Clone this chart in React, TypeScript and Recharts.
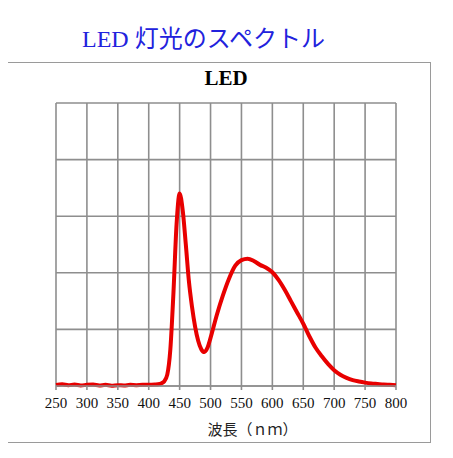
import { LineChart, Line, XAxis, YAxis, CartesianGrid } from "recharts"

// wavelength (nm) and relative intensity of the LED spectrum
const wavelengths = [
  250, 260, 270, 280, 290, 300, 310, 320, 330, 340, 350, 360, 370, 380, 390, 400,
  410, 415, 420, 425, 430, 435, 440, 445, 450, 455, 460, 465, 470, 475, 480, 485,
  490, 495, 500, 510, 520, 530, 540, 550, 560, 570, 580, 590, 600, 610, 620, 630,
  640, 650, 660, 670, 680, 690, 700, 710, 720, 730, 740, 750, 760, 770, 780, 790, 800,
]
const intensity = [
  0.4, 0.6, 0.3, 0.5, 0.2, 0.4, 0.5, 0.2, 0.4, 0.1, 0.3, 0.2, 0.4, 0.3, 0.4, 0.4,
  0.5, 0.6, 0.9, 1.6, 4, 13, 33, 57, 68, 62, 50, 37, 28, 21, 16, 13,
  12, 13.5, 17, 25, 32, 38, 42.5, 44.5, 45, 44.2, 42.8, 41.8, 40.2, 37.5, 34, 30,
  26, 22, 17.5, 13.5, 10.5, 7.8, 5.6, 4, 2.9, 2.1, 1.6, 1.2, 0.9, 0.7, 0.5, 0.4, 0.3,
]

const xTicks = [250, 300, 350, 400, 450, 500, 550, 600, 650, 700, 750, 800]
const yTicks = [0, 20, 40, 60, 80, 100]

const data = wavelengths.map((nm, i) => ({ nm, value: intensity[i] }))

// 10 nm minor ticks between the labelled ones
const minorTicks: number[] = []
for (let v = 260; v < 800; v += 10) if (v % 50 !== 0) minorTicks.push(v)

const GRID = "#8e8e8e"
const serif = "'Liberation Serif', 'DejaVu Serif', 'Noto Sans CJK JP', serif"

export default function App() {
  return (
    <div style={{ position: "relative", width: 453, height: 458, margin: -8, fontFamily: serif }}>
      <div
        style={{
          position: "absolute",
          left: 0,
          width: 407,
          top: 24,
          textAlign: "center",
          fontSize: 24,
          lineHeight: "30px",
          color: "#2222dd",
          whiteSpace: "nowrap",
        }}
      >
        LED 灯光のスペクトル
      </div>
      <div
        style={{
          position: "absolute",
          left: 4,
          top: 62,
          width: 427,
          height: 381,
          border: "1.5px solid #9a9a9a",
          boxSizing: "border-box",
        }}
      />
      <div
        style={{
          position: "absolute",
          left: 56,
          width: 340,
          top: 65,
          textAlign: "center",
          fontSize: 21,
          fontWeight: "bold",
          lineHeight: "26px",
          color: "#000",
        }}
      >
        LED
      </div>
      <div
        style={{
          position: "absolute",
          left: 150,
          width: 205,
          top: 419,
          textAlign: "center",
          fontSize: 15,
          lineHeight: "20px",
          color: "#222",
          fontFamily: "'Noto Sans CJK JP', serif",
        }}
      >
        波長（ｎｍ）
      </div>
      <div style={{ position: "absolute", left: 0, top: 0 }}>
        <LineChart
          width={453}
          height={458}
          data={data}
          margin={{ top: 103, right: 57, bottom: 42, left: 56 }}
        >
          <CartesianGrid stroke={GRID} strokeWidth={1.6} />
          <XAxis
            xAxisId="minor"
            dataKey="nm"
            type="number"
            domain={[250, 800]}
            ticks={minorTicks}
            height={0}
            mirror
            tick={false}
            tickSize={3}
            axisLine={false}
            tickLine={{ stroke: GRID, strokeWidth: 1.2 }}
          />
          <XAxis
            dataKey="nm"
            type="number"
            domain={[250, 800]}
            ticks={xTicks}
            height={30}
            tickSize={4}
            tickMargin={7}
            axisLine={{ stroke: GRID, strokeWidth: 1.6 }}
            tickLine={{ stroke: GRID, strokeWidth: 1.6 }}
            tick={{ fill: "#111", fontSize: 15, fontFamily: serif }}
          />
          <YAxis hide type="number" domain={[0, 100]} ticks={yTicks} />
          <Line
            type="monotone"
            dataKey="value"
            stroke="#e80000"
            strokeWidth={4}
            dot={false}
            isAnimationActive={false}
          />
        </LineChart>
      </div>
    </div>
  )
}
